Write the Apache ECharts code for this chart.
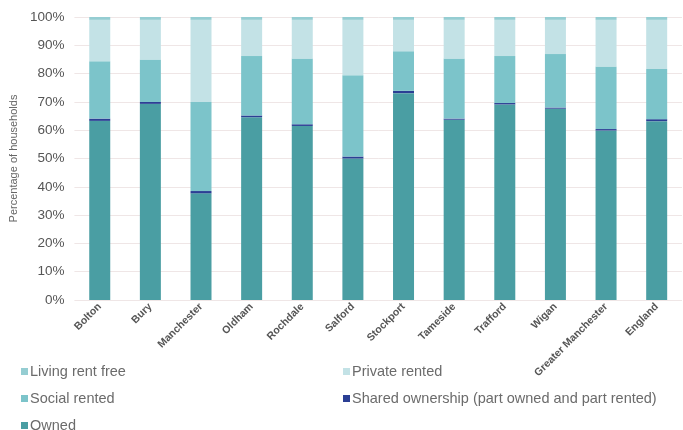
<!DOCTYPE html>
<html>
<head>
<meta charset="utf-8">
<script src="https://cdn.jsdelivr.net/npm/echarts@6/dist/echarts.min.js"></script>
<style>
  html, body { margin: 0; padding: 0; background: #fff; }
  #chart { width: 683px; height: 430px; }
</style>
</head>
<body>
<div id="chart"></div>
<script>
// 区域
var areas = ['Bolton', 'Bury', 'Manchester', 'Oldham', 'Rochdale', 'Salford', 'Stockport',
             'Tameside', 'Trafford', 'Wigan', 'Greater Manchester', 'England'];
// 各类住房占比 (%)
var owned      = [63.3, 69.3, 37.7, 64.6, 61.5, 50.0, 73.1, 63.7, 69.1, 67.6, 59.9, 63.2];
var shared     = [0.8, 0.7, 0.8, 0.6, 0.6, 0.7, 0.8, 0.4, 0.5, 0.4, 0.5, 0.7];
var social     = [20.3, 15.0, 31.5, 21.0, 23.2, 28.7, 14.0, 21.2, 16.6, 18.9, 22.1, 17.7];
var privRented = [14.6, 14.0, 29.0, 12.8, 13.7, 19.6, 11.1, 13.7, 12.8, 12.1, 16.5, 17.4];
var rentFree   = [1.0, 1.0, 1.0, 1.0, 1.0, 1.0, 1.0, 1.0, 1.0, 1.0, 1.0, 1.0];
var yTicks = [0, 10, 20, 30, 40, 50, 60, 70, 80, 90, 100];

var colors = {
    'Owned': '#4a9ea3',
    'Shared ownership (part owned and part rented)': '#2b3f94',
    'Social rented': '#7cc4ca',
    'Private rented': '#c3e2e6',
    'Living rent free': '#95cdd2'
};

function bar(name, data){
    return {
        name: name,
        type: 'bar',
        stack: 'total',
        barWidth: 21,
        data: data,
        itemStyle: { color: colors[name] }
    };
}

function legendAt(name, left, top){
    return {
        data: [name],
        left: left, top: top,
        itemWidth: 7, itemHeight: 7, itemGap: 4,
        icon: 'rect',
        textStyle: { color: '#6b6b6b', fontSize: 14.5, fontFamily: 'Liberation Sans', padding: [0, 0, 0, -3] }
    };
}

var myChart = echarts.init(document.getElementById('chart'));
var option = {
    animation: false,
    textStyle: { fontFamily: 'Liberation Sans' },
    grid: { left: 73, right: 1, top: 17, bottom: 130 },
    legend: [
        legendAt('Living rent free', 16, 359),
        legendAt('Private rented', 338, 359),
        legendAt('Social rented', 16, 386),
        legendAt('Shared ownership (part owned and part rented)', 338, 386),
        legendAt('Owned', 16, 413)
    ],
    xAxis: {
        type: 'category',
        data: areas,
        axisLine: { show: false },
        axisTick: { show: false },
        axisLabel: {
            interval: 0,
            rotate: 45,
            margin: 5,
            color: '#555',
            fontSize: 10.5,
            fontWeight: 'bold'
        }
    },
    yAxis: {
        type: 'value',
        min: 0, max: 100, interval: 10,
        name: 'Percentage of households',
        nameLocation: 'middle',
        nameRotate: 90,
        nameGap: 50,
        nameTextStyle: { color: '#666', fontSize: 11 },
        axisLabel: {
            color: '#555',
            fontSize: 13.5,
            margin: 10,
            formatter: function(v){ return yTicks.indexOf(v) >= 0 ? v + '%' : ''; }
        },
        splitLine: { lineStyle: { color: '#efe6e6', width: 1 } }
    },
    series: [
        bar('Owned', owned),
        bar('Shared ownership (part owned and part rented)', shared),
        bar('Social rented', social),
        bar('Private rented', privRented),
        bar('Living rent free', rentFree)
    ]
};
myChart.setOption(option);
</script>
</body>
</html>
